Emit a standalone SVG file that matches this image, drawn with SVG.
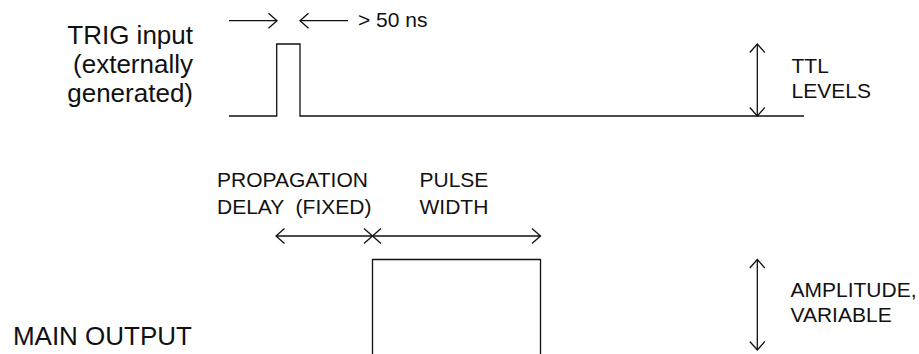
<svg xmlns="http://www.w3.org/2000/svg" width="919" height="354" viewBox="0 0 919 354">
<style>
.ln{fill:none;stroke:#111;stroke-width:1.3}
.big{font-family:"Liberation Sans",Arial,sans-serif;font-size:26px;fill:#111}
.sm{font-family:"Liberation Sans",Arial,sans-serif;font-size:21px;fill:#111;white-space:pre}
</style>
<defs>
<marker id="ah" viewBox="-10 -8 12 16" refX="0" refY="0" markerWidth="12" markerHeight="16" markerUnits="userSpaceOnUse" orient="auto-start-reverse">
<path d="M-8.5,-7.5 L0,0 L-8.5,7.5" fill="none" stroke="#111" stroke-width="1.3"/>
</marker>
</defs>
<rect width="919" height="354" fill="#fff"/>
<g id="trig-label">
<text class="big" x="193" y="44" text-anchor="end">TRIG input</text>
<text class="big" x="193" y="73" text-anchor="end">(externally</text>
<text class="big" x="193" y="102" text-anchor="end">generated)</text>
</g>
<g id="trig-signal">
<path class="ln" d="M229,116 H276.7 V44 H300 V116 H804"/>
</g>
<g id="main-label">
<text class="big" x="192" y="345" text-anchor="end">MAIN OUTPUT</text>
</g>
<g id="main-signal">
<path class="ln" d="M372.5,354 V259.5 H540.5 V354"/>
</g>
<g id="width-label">
<text class="sm" x="358" y="27">&gt; 50 ns</text>
</g>
<g id="ttl-label">
<text class="sm" x="791.5" y="73">TTL</text>
<text class="sm" x="791.5" y="98">LEVELS</text>
</g>
<g id="delay-label">
<text class="sm" x="217" y="187">PROPAGATION</text>
<text class="sm" x="217" y="214">DELAY  (FIXED)</text>
</g>
<g id="pulse-label">
<text class="sm" x="419.5" y="187">PULSE</text>
<text class="sm" x="419.5" y="214">WIDTH</text>
</g>
<g id="amp-label">
<text class="sm" x="790.5" y="297">AMPLITUDE,</text>
<text class="sm" x="790.5" y="322">VARIABLE</text>
</g>
<g id="connectors">
<line class="ln" x1="229" y1="20.7" x2="277" y2="20.7" marker-end="url(#ah)"/>
<line class="ln" x1="348" y1="20.7" x2="300" y2="20.7" marker-end="url(#ah)"/>
<line class="ln" x1="757.3" y1="44" x2="757.3" y2="116" marker-start="url(#ah)" marker-end="url(#ah)"/>
<line class="ln" x1="276" y1="236" x2="372.5" y2="236" marker-start="url(#ah)" marker-end="url(#ah)"/>
<line class="ln" x1="372.5" y1="236" x2="540.5" y2="236" marker-start="url(#ah)" marker-end="url(#ah)"/>
<line class="ln" x1="757.3" y1="259.5" x2="757.3" y2="350" marker-start="url(#ah)" marker-end="url(#ah)"/>
</g>
</svg>
